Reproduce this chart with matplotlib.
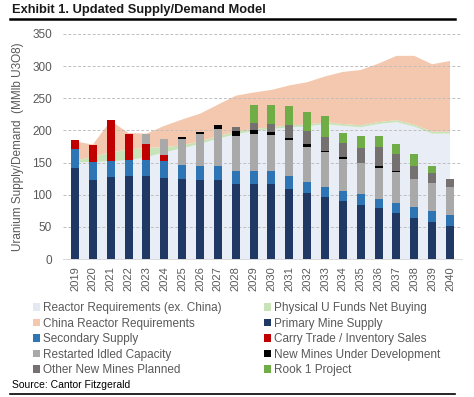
import matplotlib
matplotlib.use("Agg")
import matplotlib.pyplot as plt
from matplotlib.patches import Patch
import numpy as np

plt.rcParams['font.family'] = ['Liberation Sans', 'DejaVu Sans']

years = [str(y) for y in range(2019, 2041)]

# Stacked areas (demand)
reactor_ex_china = [150, 151, 152, 154, 158, 166, 172, 179, 187, 194, 199, 202, 205, 206, 210, 207, 205, 210, 213, 206, 195, 195]
u_funds = [3, 8, 14, 16, 15, 8, 5, 4, 4, 4, 3, 3, 3, 3, 3, 3, 3, 3, 3, 3, 3, 3]
demand_total = [183, 178, 215, 196, 195, 207, 217, 226, 240, 254, 259, 263, 270, 275, 284, 291, 294, 304, 316, 316, 303, 308]
china_reactor = [t - a - b for t, a, b in zip(demand_total, reactor_ex_china, u_funds)]

# Stacked bars (supply)
primary = [141, 123, 127, 129, 129, 126, 124.5, 123, 123, 116, 117, 117, 109, 103, 97, 90, 84, 79, 71, 64, 58, 51]
secondary = [30, 28, 26, 25, 25, 27, 22.5, 22, 22, 21, 20, 20, 20, 17, 15.5, 16, 16.5, 14, 15.5, 17, 17, 17]
carry_trade = [14.5, 26, 62.5, 40, 25, 9, 0, 0, 0, 0, 0, 0, 0, 0, 0, 0, 0, 0, 0, 0, 0, 0]
restarted = [0, 0, 0, 0, 15, 24.5, 40, 49, 57, 55, 57, 56, 56, 54.5, 53.5, 50, 48.5, 48, 48.5, 44, 44, 43.5]
new_mines_dev = [0, 0, 0, 0, 0, 0, 3, 3.5, 7, 6.5, 6, 4.5, 4, 4, 2, 3, 0, 4, 2, 0, 0, 0]
other_new = [0, 0, 0, 0, 0, 0, 0, 0, 0, 6.5, 12, 12.5, 19, 20.5, 22.5, 21, 23, 29, 26, 20, 15, 12.5]
rook1 = [0, 0, 0, 0, 0, 0, 0, 0, 0, 0, 27, 29, 30, 30, 31.5, 16, 19.5, 17.5, 16, 18, 11, 0]

c_pale = '#e9edf5'
c_lgreen = '#c9e3b8'
c_peach = '#f4c8ae'
c_navy = '#1f3864'
c_blue = '#2e75b6'
c_red = '#c00000'
c_gray = '#a9a9a9'
c_black = '#000000'
c_dgray = '#767171'
c_green = '#70ad47'

fig = plt.figure(figsize=(4.74, 3.97), dpi=100)
ax = fig.add_axes([63/474, 1-259/397, (462-63)/474, (259-34)/397])

x = np.arange(len(years))
ax.stackplot(x, reactor_ex_china, u_funds, china_reactor,
             colors=[c_pale, c_lgreen, c_peach], zorder=1, linewidth=0)

yticks = [0, 50, 100, 150, 200, 250, 300, 350]
for yt in yticks[1:]:
    ax.axhline(yt, color='#bfbfbf', lw=0.7, ls=(0, (3, 2)), zorder=1.5)

series = [(primary, c_navy), (secondary, c_blue), (carry_trade, c_red),
          (restarted, c_gray), (new_mines_dev, c_black), (other_new, c_dgray),
          (rook1, c_green)]
bottom = np.zeros(len(years))
w = 0.45
for vals, col in series:
    v = np.array(vals, dtype=float)
    ax.bar(x, v, w, bottom=bottom, color=col, zorder=2, linewidth=0)
    bottom += v

ax.set_xlim(-0.67, 21.67)
ax.set_ylim(0, 350)
ax.set_yticks(yticks)
ax.set_xticks(x)
ax.set_xticklabels(years, rotation=90, fontsize=8, color='#595959')
ax.tick_params(axis='y', labelsize=8.5, colors='#595959', length=0, pad=8)
ax.tick_params(axis='x', length=0, pad=5)
for s in ['top', 'right', 'left']:
    ax.spines[s].set_visible(False)
ax.spines['bottom'].set_color('#d9d9d9')
ax.spines['bottom'].set_linewidth(0.7)
ax.set_ylabel('Uranium Supply/Demand  (MMlb U3O8)', fontsize=8.5, color='#595959', labelpad=6)

# Title and rules
fig.text(12/474, 1-10/397, 'Exhibit 1. Updated Supply/Demand Model', fontsize=9.3,
         fontweight='bold', va='center', ha='left', color='#1a1a1a')
fig.add_artist(plt.Line2D([10/474, 455/474], [1-19/397, 1-19/397], color='black', lw=1.8))
fig.text(12/474, 1-385/397, 'Source: Cantor Fitzgerald', fontsize=7.5, va='center', ha='left')
fig.add_artist(plt.Line2D([10/474, 455/474], [1-394/397, 1-394/397], color='black', lw=1.2))

labels_col1 = ['Reactor Requirements (ex. China)', 'China Reactor Requirements', 'Secondary Supply',
               'Restarted Idled Capacity', 'Other New Mines Planned']
colors_col1 = ['#e4e8f0', '#f4c8ae', c_blue, c_gray, c_dgray]
labels_col2 = ['Physical U Funds Net Buying', 'Primary Mine Supply', 'Carry Trade / Inventory Sales',
               'New Mines Under Development', 'Rook 1 Project']
colors_col2 = [c_lgreen, c_navy, c_red, c_black, c_green]
handles = [Patch(facecolor=c, edgecolor='none') for c in colors_col1 + colors_col2]
leg = fig.legend(handles, labels_col1 + labels_col2, ncol=2, loc='upper left',
                 bbox_to_anchor=(33/474, 1-302/397), frameon=False, fontsize=8.5,
                 handlelength=0.6, handleheight=0.6, handletextpad=0.25,
                 columnspacing=3.6, labelspacing=0.3, borderaxespad=0, borderpad=0)
for t in leg.get_texts():
    t.set_color('#595959')

fig.savefig('out.png', dpi=100)
